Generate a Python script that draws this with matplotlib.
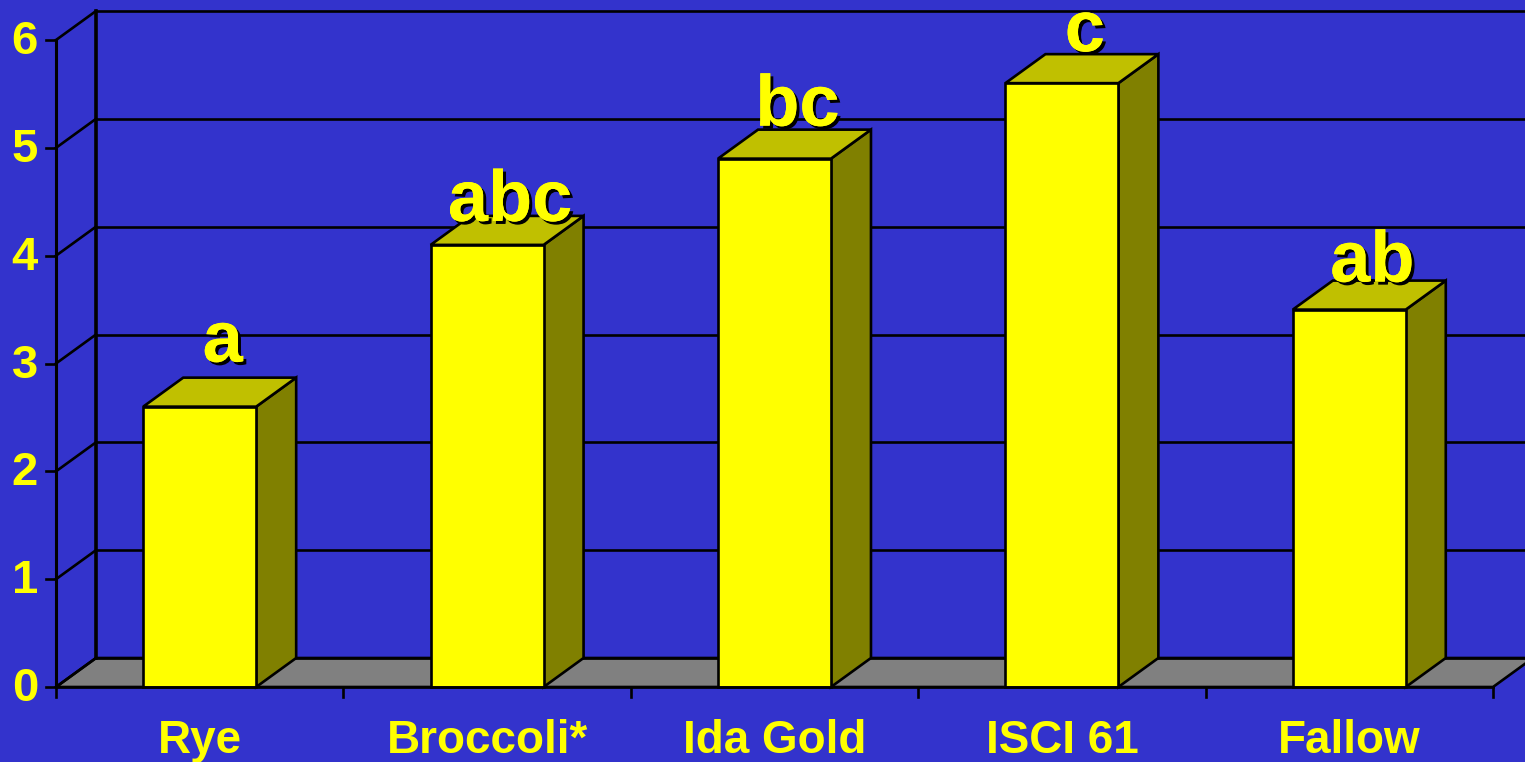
import matplotlib
matplotlib.use("Agg")
import matplotlib.pyplot as plt
from matplotlib.patches import Polygon
import matplotlib.patheffects as pe

# data
crops = ['Rye', 'Broccoli*', 'Ida Gold', 'ISCI 61', 'Fallow']
values = [2.6, 4.1, 4.9, 5.6, 3.5]
letters = ['a', 'abc', 'bc', 'c', 'ab']
yticks = [0, 1, 2, 3, 4, 5, 6]

# layout (pixel scale of the reference)
px_cat = 287.4     # px per category
px_unit = 107.83   # px per y unit
x0_px, y0_px = 56, 687
W, H = 1525, 762
dx = 40 / px_cat   # depth offset in x (category units)
dy = 29 / px_unit  # depth offset in y (value units)
bar_w = 0.393
letter_off_px = [16, -5, 4, 3, -1]

BLUE = '#3333CC'
YEL = '#FFFF00'
TOP = '#C0C000'
SIDE = '#808000'
FLOOR = '#808080'

plt.rcParams['font.family'] = ['Liberation Sans', 'DejaVu Sans']

fig = plt.figure(figsize=(W / 100, H / 100), dpi=100, facecolor=BLUE)
ax = fig.add_axes([0, 0, 1, 1])
ax.set_facecolor(BLUE)
ax.axis('off')
ax.set_xlim(-x0_px / px_cat, (W - x0_px) / px_cat)
ax.set_ylim((y0_px - H) / px_unit, y0_px / px_unit)

n = len(crops)
ymax = yticks[-1]
lw = 1.9

# floor
ax.add_patch(Polygon([(0, 0), (n, 0), (n + dx, dy), (dx, dy)],
                     closed=True, facecolor=FLOOR, edgecolor='black', lw=lw, zorder=1))

# back wall grid lines and side wall lines
for v in yticks:
    ax.plot([dx, n + dx], [v + dy, v + dy], color='black', lw=lw, zorder=1.5)
    ax.plot([0, dx], [v, v + dy], color='black', lw=lw, zorder=1.5)
    ax.plot([-10 / px_cat, 0], [v, v], color='black', lw=lw, zorder=2)
    ax.text(-18 / px_cat, v - 2 / px_unit, str(v), ha='right', va='center', fontsize=34,
            fontweight='bold', color=YEL, zorder=5)
ax.plot([dx, dx], [dy, ymax + dy], color='black', lw=2.6, zorder=1.5)
ax.plot([0, 0], [0, ymax], color='black', lw=2.2, zorder=2)

# front axis line + ticks
ax.plot([0, n], [0, 0], color='black', lw=lw, zorder=4)
for i in range(n + 1):
    ax.plot([i, i], [0, -10 / px_unit], color='black', lw=lw, zorder=4)

# bars
shadow = [pe.withSimplePatchShadow(offset=(2.2, -2.2), shadow_rgbFace='black', alpha=1.0),
          pe.Normal()]
for i, (v, lab) in enumerate(zip(values, letters)):
    xl = i + 0.5 - bar_w / 2
    xr = xl + bar_w
    ax.add_patch(Polygon([(xr, 0), (xr + dx, dy), (xr + dx, v + dy), (xr, v)],
                         closed=True, facecolor=SIDE, edgecolor='black', lw=lw, zorder=3))
    ax.add_patch(Polygon([(xl, v), (xr, v), (xr + dx, v + dy), (xl + dx, v + dy)],
                         closed=True, facecolor=TOP, edgecolor='black', lw=lw, zorder=3))
    ax.add_patch(Polygon([(xl, 0), (xr, 0), (xr, v), (xl, v)],
                         closed=True, facecolor=YEL, edgecolor='black', lw=lw, zorder=3))
    ax.text(i + 0.5 + dx / 2 + 3 / px_cat, v + dy + letter_off_px[i] / px_unit, lab,
            ha='center', va='baseline', fontsize=52, fontweight='bold',
            color=YEL, zorder=6, path_effects=shadow)
    ax.text(i + 0.5, -66 / px_unit, crops[i], ha='center', va='baseline',
            fontsize=33, fontweight='bold', color=YEL, zorder=5)

fig.savefig('out.png', dpi=100, facecolor=BLUE)
